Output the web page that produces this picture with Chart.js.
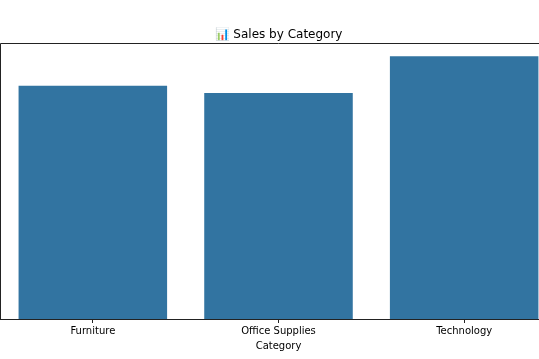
<!DOCTYPE html>
<html>
<head>
<meta charset="utf-8">
<script src="https://cdn.jsdelivr.net/npm/chart.js@4"></script>
<style>
html,body{margin:0;padding:0;background:#fff;overflow:hidden;}
#wrap{position:absolute;left:0;top:0;width:557px;height:359px;}
</style>
</head>
<body>
<div id="wrap"><canvas id="c"></canvas></div>
<script>
const categories = ["Furniture", "Office Supplies", "Technology"];
const sales = [741999.80, 719047.03, 836154.03];
const titleText = "\u{1F4CA} Sales by Category";
const xTitle = "Category";

const spines = {
  id: 'spines',
  afterDatasetsDraw(chart) {
    const {ctx, chartArea: a} = chart;
    ctx.save();
    ctx.strokeStyle = '#222';
    ctx.lineWidth = 1;
    ctx.beginPath();
    ctx.moveTo(a.left + 0.5, a.bottom);
    ctx.lineTo(a.left + 0.5, a.top + 0.5);
    ctx.lineTo(a.right - 0.5, a.top + 0.5);
    ctx.lineTo(a.right - 0.5, a.bottom);
    ctx.stroke();
    ctx.restore();
  }
};

new Chart(document.getElementById('c'), {
  type: 'bar',
  data: {
    labels: categories,
    datasets: [{
      data: sales,
      backgroundColor: '#3274a1',
      borderWidth: 0,
      categoryPercentage: 1.0,
      barPercentage: 0.8
    }]
  },
  options: {
    responsive: true,
    maintainAspectRatio: false,
    animation: false,
    devicePixelRatio: 1,
    layout: {padding: {left: 0, right: 0, top: 0, bottom: 7}},
    plugins: {
      legend: {display: false},
      tooltip: {enabled: false},
      title: {
        display: true,
        text: titleText,
        color: '#000',
        font: {family: 'DejaVu Sans', size: 12, weight: 'normal'},
        padding: {top: 27.8, bottom: 0.8}
      }
    },
    scales: {
      x: {
        offset: true,
        grid: {display: true, drawOnChartArea: false, offset: false, tickLength: 4, color: '#222', tickWidth: 1},
        border: {display: true, color: '#222', width: 1},
        ticks: {color: '#000', padding: 2, font: {family: 'DejaVu Sans', size: 10}},
        title: {display: true, text: xTitle, color: '#000', padding: {top: 1, bottom: 0}, font: {family: 'DejaVu Sans', size: 10}}
      },
      y: {
        display: false,
        min: 0,
        max: Math.max(...sales) * 1.05
      }
    }
  },
  plugins: [spines]
});
</script>
</body>
</html>
